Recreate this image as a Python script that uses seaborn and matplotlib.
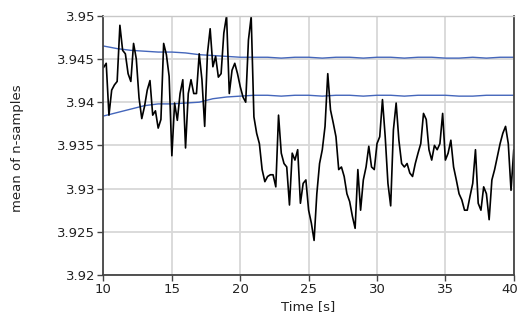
import numpy as np
import pandas as pd
import matplotlib
matplotlib.use("Agg")
import matplotlib.pyplot as plt
import matplotlib.transforms as mtransforms
import seaborn as sns
from matplotlib.ticker import FuncFormatter

# ---- data ----
t_start, t_step = 10.0, 0.2
mean_values = [
    3.9440, 3.9445, 3.9385, 3.9414, 3.9420, 3.9424, 3.9489, 3.9460, 3.9456, 3.9433,
    3.9424, 3.9468, 3.9450, 3.9405, 3.9381, 3.9395, 3.9414, 3.9425, 3.9385, 3.9390,
    3.9370, 3.9380, 3.9468, 3.9455, 3.9430,
    3.9338, 3.9399, 3.9379, 3.9410, 3.9426, 3.9347, 3.9410, 3.9426, 3.9410, 3.9410,
    3.9456, 3.9426, 3.9372, 3.9456, 3.9485, 3.9441, 3.9453, 3.9429, 3.9433, 3.9480,
    3.9500, 3.9410, 3.9437, 3.9445, 3.9433,
    3.9418, 3.9406, 3.9400, 3.9472, 3.9499, 3.9383, 3.9364, 3.9352, 3.9322, 3.9308,
    3.9314, 3.9316, 3.9316, 3.9302, 3.9385, 3.9341, 3.9329, 3.9325, 3.9281, 3.9341,
    3.9333, 3.9345, 3.9283, 3.9306, 3.9310,
    3.9275, 3.9260, 3.9240, 3.9294, 3.9329, 3.9345, 3.9372, 3.9433, 3.9391, 3.9376,
    3.9360, 3.9322, 3.9325, 3.9314, 3.9294, 3.9285, 3.9268, 3.9254, 3.9322, 3.9275,
    3.9310, 3.9325, 3.9349, 3.9325, 3.9322,
    3.9352, 3.9360, 3.9403, 3.9360, 3.9306, 3.9280, 3.9368, 3.9399, 3.9356, 3.9329,
    3.9325, 3.9329, 3.9318, 3.9314, 3.9329, 3.9341, 3.9352, 3.9387, 3.9380, 3.9345,
    3.9333, 3.9350, 3.9345, 3.9352, 3.9387,
    3.9333, 3.9341, 3.9356, 3.9325, 3.9310, 3.9294, 3.9287, 3.9275, 3.9275, 3.9291,
    3.9306, 3.9345, 3.9283, 3.9275, 3.9302, 3.9294, 3.9264, 3.9310, 3.9322, 3.9337,
    3.9352, 3.9364, 3.9372, 3.9352, 3.9298, 3.9345,
]
limit_times = list(range(10, 41))
upper_limit = [
    3.9465, 3.9462, 3.9460, 3.9459, 3.9458, 3.9458, 3.9457, 3.9455, 3.9454, 3.9453,
    3.9452, 3.9452, 3.9452, 3.9451, 3.9452, 3.9452, 3.9451, 3.9452, 3.9452, 3.9451,
    3.9452, 3.9452, 3.9451, 3.9452, 3.9452, 3.9451, 3.9451, 3.9452, 3.9451, 3.9452,
    3.9452,
]
lower_limit = [
    3.9384, 3.9388, 3.9392, 3.9396, 3.9398, 3.9398, 3.9399, 3.9400, 3.9404, 3.9406,
    3.9407, 3.9408, 3.9408, 3.9407, 3.9408, 3.9408, 3.9407, 3.9408, 3.9408, 3.9407,
    3.9408, 3.9408, 3.9407, 3.9408, 3.9408, 3.9408, 3.9407, 3.9407, 3.9408, 3.9408,
    3.9408,
]
x_ticks = [10, 15, 20, 25, 30, 35, 40]
y_ticks = [3.92, 3.925, 3.93, 3.935, 3.94, 3.945, 3.95]

times = t_start + t_step * np.arange(len(mean_values))
df_mean = pd.DataFrame({"t": times, "v": mean_values})
df_lim = pd.DataFrame({"t": limit_times, "up": upper_limit, "lo": lower_limit})

# ---- plot ----
sns.set_theme(style="white")
plt.rcParams["font.family"] = ["DejaVu Sans"]
fig = plt.figure(figsize=(5.2, 3.22), dpi=100)
ax = fig.add_axes([0.199, 0.146, 0.789, 0.805])

blue = "#4466bb"
sns.lineplot(data=df_lim, x="t", y="up", ax=ax, color=blue, linewidth=1.0)
sns.lineplot(data=df_lim, x="t", y="lo", ax=ax, color=blue, linewidth=1.0)
sns.lineplot(data=df_mean, x="t", y="v", ax=ax, color="black", linewidth=1.2)

ax.set_xlim(10, 40)
ax.set_ylim(3.92, 3.95)
ax.set_xticks(x_ticks)
ax.set_yticks(y_ticks)
ax.yaxis.set_major_formatter(FuncFormatter(lambda v, p: f"{v:g}"))
ax.grid(True, color="#d8d8d8", linewidth=1.3)
ax.set_axisbelow(True)

for side in ["left", "bottom", "right"]:
    ax.spines[side].set_color("#444444")
    ax.spines[side].set_linewidth(1.3)
ax.spines["top"].set_color("#c8c8c8")
ax.spines["top"].set_linewidth(1.0)

ax.tick_params(axis="both", which="major", direction="out", length=4, width=1,
               color="#444444", labelsize=9.5, labelcolor="#222222", pad=2,
               left=True, bottom=True)

# keep the last x tick label inside the figure, as in the reference
fig.canvas.draw()
last = ax.get_xticklabels()[-1]
last.set_transform(last.get_transform() +
                   mtransforms.ScaledTranslation(-4 / 100, 0, fig.dpi_scale_trans))

ax.set_xlabel("Time [s]", fontsize=9.5, color="#222222", labelpad=3)
ax.set_ylabel("mean of n-samples", fontsize=9.5, color="#222222")
ax.yaxis.set_label_coords(-0.193, 0.49)

fig.savefig("out.png", dpi=100)
